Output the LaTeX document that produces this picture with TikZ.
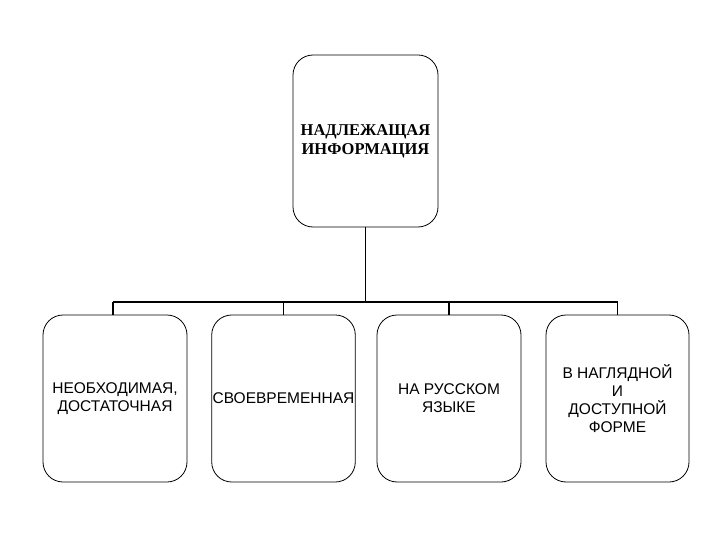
\documentclass[tikz,border=0pt]{standalone}
\usepackage{fontspec}
\setmainfont{Liberation Sans}
\newfontfamily\serifb{Liberation Serif}
\begin{document}
\begin{tikzpicture}[x=1pt,y=-1pt,
  box/.style={draw,line width=0.8pt,rounded corners=20pt,minimum width=144pt,minimum height=167pt,align=center,inner sep=1pt,font=\fontsize{15.5}{18}\selectfont},
  link/.style={line width=1.2pt}]
\useasboundingbox (0,0) rectangle (720,540);
\node[box,minimum width=145pt,minimum height=172pt,font=\serifb\bfseries\fontsize{16.5}{19}\selectfont] (top) at (365.5,141) {НАДЛЕЖАЩАЯ\\ИНФОРМАЦИЯ};
\node[box] (b1) at (115,398.5) {НЕОБХОДИМАЯ,\\ДОСТАТОЧНАЯ};
\node[box,minimum width=143pt] (b2) at (283.5,398.5) {СВОЕВРЕМЕННАЯ};
\node[box] (b3) at (449,398.5) {НА РУССКОМ\\ЯЗЫКЕ};
\node[box,minimum width=143pt] (b4) at (617.5,398.5) {В НАГЛЯДНОЙ\\И\\ДОСТУПНОЙ\\ФОРМЕ};
\coordinate (hub) at (365.5,302);
\coordinate (l) at (113,302);
\coordinate (r) at (617.5,302);
\draw[link] (top.south) -- (hub);
\draw[link] (l) -- (r);
\draw[link] (l) -- (l |- b1.north);
\draw[link] (b2.north |- hub) -- (b2.north);
\draw[link] (b3.north |- hub) -- (b3.north);
\draw[link] (r) -- (b4.north);
\end{tikzpicture}
\end{document}
